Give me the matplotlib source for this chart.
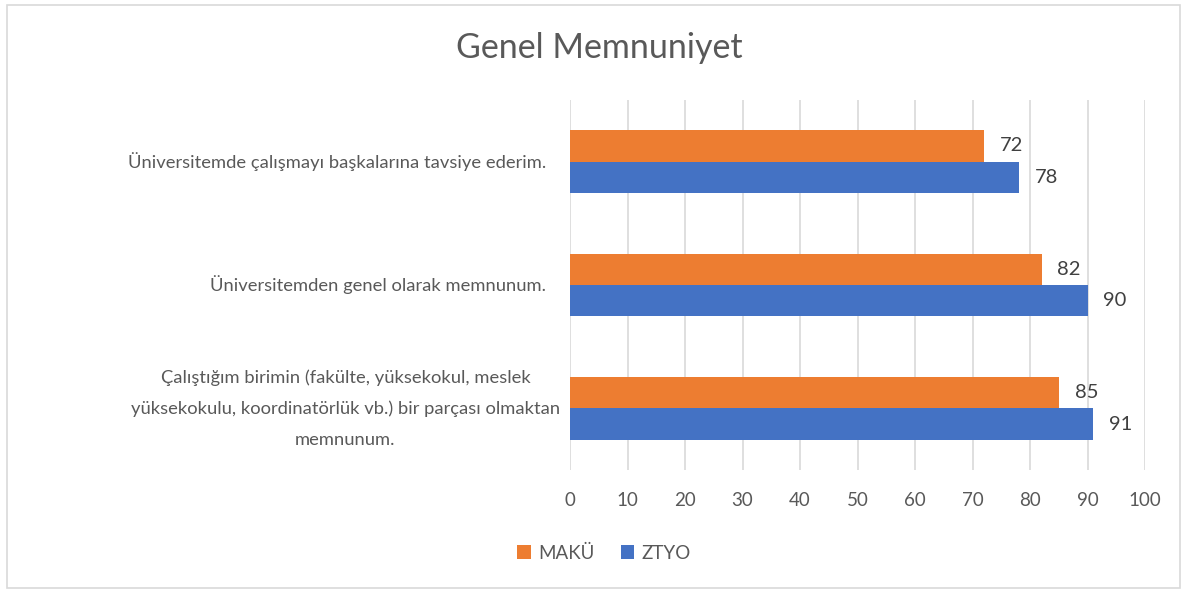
import matplotlib.pyplot as plt
from matplotlib.patches import Rectangle
from matplotlib.transforms import blended_transform_factory

# Veriler
kategoriler = [
    "Çalıştığım birimin (fakülte, yüksekokul, meslek\nyüksekokulu, koordinatörlük vb.) bir parçası olmaktan\nmemnunum.",
    "Üniversitemden genel olarak memnunum.",
    "Üniversitemde çalışmayı başkalarına tavsiye ederim.",
]
maku = [85, 82, 72]
ztyo = [91, 90, 78]
x_ticks = [0, 10, 20, 30, 40, 50, 60, 70, 80, 90, 100]

plt.rcParams['font.family'] = ['Lato', 'DejaVu Sans']
metin_renk = '#595959'

W, H = 1187, 593
fig = plt.figure(figsize=(W / 100, H / 100), dpi=100)
ax = fig.add_axes([570 / W, 1 - 470 / H, 575 / W, 370 / H])

y = list(range(len(kategoriler)))
h = 0.255
b1 = ax.barh([i + h / 2 for i in y], maku, height=h, color='#ED7D31', label='MAKÜ', zorder=3)
b2 = ax.barh([i - h / 2 for i in y], ztyo, height=h, color='#4472C4', label='ZTYO', zorder=3)

for bars in (b1, b2):
    for bar in bars:
        ax.annotate(f'{bar.get_width():.0f}', (bar.get_width(), bar.get_y() + bar.get_height() / 2),
                    xytext=(11.5, 0), textcoords='offset points', va='center', ha='left',
                    fontsize=14.5, color='#404040')

ax.set_xlim(0, 100)
ax.set_ylim(-0.5, 2.5)
ax.set_xticks(x_ticks)
ax.set_yticks([])
ax.tick_params(axis='x', labelsize=13.5, labelcolor=metin_renk, length=0, pad=16)
ax.grid(axis='x', color='#D9D9D9', linewidth=1.2, zorder=0)
for s in ax.spines.values():
    s.set_visible(False)

# kategori etiketleri (Excel tarzı, satırlar ortalı)
tr = blended_transform_factory(fig.transFigure, ax.transData)
sag_kenar = [560, 546, 546]
for i, etiket in enumerate(kategoriler):
    ax.text(sag_kenar[i] / W, y[i], etiket, transform=tr, ha='right', va='center',
            multialignment='center', fontsize=13.2, color=metin_renk, linespacing=2.1)

fig.text(599 / W, 1 - 48 / H, 'Genel Memnuniyet', ha='center', va='center', fontsize=24.5, color=metin_renk)

fig.legend(handles=[b1, b2], loc='center', bbox_to_anchor=(604 / W, 1 - 553 / H), ncol=2, frameon=False,
           fontsize=13.5, labelcolor=metin_renk, handlelength=0.7, handleheight=0.7,
           handletextpad=0.4, columnspacing=1.4)

fig.patches.append(Rectangle((7 / W, 5 / H), 1 - 14 / W, 1 - 10 / H, transform=fig.transFigure,
                             fill=False, edgecolor='#D9D9D9', linewidth=1.2))

fig.savefig('out.png', dpi=100, facecolor='white')
